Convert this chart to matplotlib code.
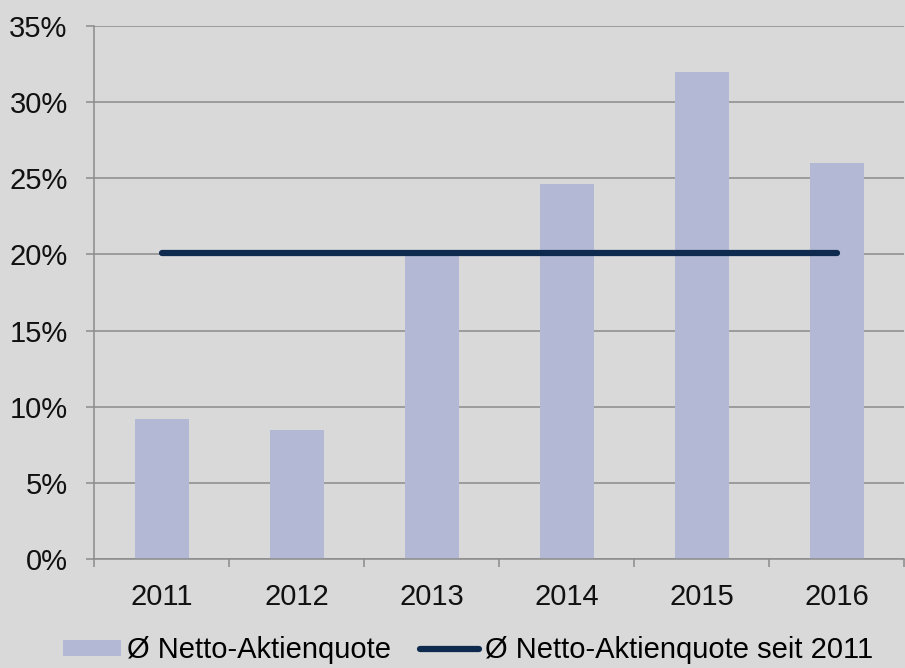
import matplotlib.pyplot as plt
import numpy as np

## --Data
years = ["2011", "2012", "2013", "2014", "2015", "2016"]
quote = [9.2, 8.5, 20.1, 24.6, 32.0, 26.0]
avg_since_2011 = [20.1, 20.1, 20.1, 20.1, 20.1, 20.1]
yticks = [0, 5, 10, 15, 20, 25, 30, 35]

bg = "#d9d9d9"
grey = "#8c8c8c"

plt.rcParams["font.family"] = ["Liberation Sans", "DejaVu Sans"]

fig = plt.figure(figsize=(9.05, 6.68), dpi=100, facecolor=bg)
ax = fig.add_axes([0.1039, 0.1632, 0.8951, 0.7979], facecolor=bg)

x = np.arange(len(years))
bars = ax.bar(x, quote, width=0.4, color="#b3b9d4", zorder=2,
              label="Ø Netto-Aktienquote")
line, = ax.plot(x, avg_since_2011, color="#0e2b4f", lw=4.5,
                solid_capstyle="round", zorder=3,
                label="Ø Netto-Aktienquote seit 2011")

## --Axes
ax.set_xlim(-0.5, len(years) - 0.5)
ax.set_ylim(0, 35)
ax.set_yticks(yticks)
ax.set_yticklabels([f"{v}%" for v in yticks])
ax.yaxis.grid(True, color=grey, lw=1.1, zorder=1)
ax.set_axisbelow(True)

ax.set_xticks(np.arange(-0.5, len(years), 1.0))
ax.set_xticklabels([])
ax.set_xticks(x, minor=True)
ax.set_xticklabels(years, minor=True)

ax.tick_params(axis="y", length=6, width=1.1, color=grey, labelsize=21,
               pad=13, labelcolor="#111111")
ax.tick_params(axis="x", which="major", length=6, width=1.1, color=grey)
ax.tick_params(axis="x", which="minor", length=0, labelsize=21, pad=17,
               labelcolor="#111111")

for s in ["top", "right"]:
    ax.spines[s].set_visible(False)
for s in ["left", "bottom"]:
    ax.spines[s].set_color(grey)
    ax.spines[s].set_linewidth(1.1)

## --Legend
fig.legend([bars, line], ["Ø Netto-Aktienquote", "Ø Netto-Aktienquote seit 2011"],
           loc="lower center", bbox_to_anchor=(0.517, -0.034), ncol=2,
           frameon=False, fontsize=21, handlelength=2.0, handletextpad=0.2,
           columnspacing=1.0, handleheight=0.45)

fig.savefig("out.png", dpi=100, facecolor=bg)
